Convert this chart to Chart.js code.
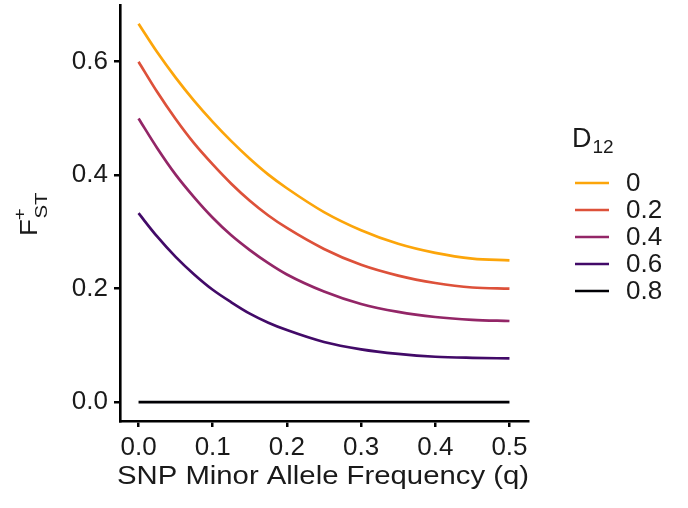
<!DOCTYPE html>
<html>
<head>
<meta charset="utf-8">
<script src="https://cdn.jsdelivr.net/npm/chart.js@4"></script>
<style>
  html, body { margin: 0; padding: 0; background: #fff; }
</style>
</head>
<body>
<canvas id="chart" width="688" height="508"></canvas>
<script>
// values
const qValues = [0, 0.025, 0.05, 0.075, 0.1, 0.125, 0.15, 0.175, 0.2, 0.25, 0.3, 0.35, 0.4, 0.45, 0.5];
const fstD0  = [0.667, 0.617, 0.572, 0.531, 0.494, 0.460, 0.429, 0.401, 0.377, 0.335, 0.303, 0.279, 0.263, 0.253, 0.250];
const fstD02 = [0.600, 0.547, 0.499, 0.456, 0.419, 0.385, 0.355, 0.329, 0.307, 0.270, 0.242, 0.223, 0.210, 0.202, 0.200];
const fstD04 = [0.500, 0.448, 0.401, 0.361, 0.325, 0.294, 0.268, 0.245, 0.225, 0.195, 0.173, 0.159, 0.150, 0.145, 0.143];
const fstD06 = [0.333, 0.292, 0.256, 0.225, 0.198, 0.176, 0.156, 0.140, 0.127, 0.106, 0.093, 0.085, 0.080, 0.078, 0.077];
const fstD08 = [0, 0, 0, 0, 0, 0, 0, 0, 0, 0, 0, 0, 0, 0, 0];

const d12Labels = ['0', '0.2', '0.4', '0.6', '0.8'];
const seriesValues = [fstD0, fstD02, fstD04, fstD06, fstD08];
const lineColors = ['#FCA50A', '#DD513A', '#932667', '#420A68', '#000004'];

const xTicks = [0, 0.1, 0.2, 0.3, 0.4, 0.5];
const yTicks = [0, 0.2, 0.4, 0.6];

const FONT = '"Liberation Sans", Arial, sans-serif';
const TEXT = '#1a1a1a';

const datasets = seriesValues.map((vals, i) => ({
  label: d12Labels[i],
  data: vals.map((v, j) => ({ x: qValues[j], y: v })),
  borderColor: lineColors[i],
  borderWidth: 2.7,
  pointRadius: 0,
  fill: false,
  cubicInterpolationMode: 'monotone'
}));

// axis titles and legend drawn by hand so they sit where ggplot put them
const extras = {
  id: 'extras',
  afterDraw(chart) {
    const ctx = chart.ctx;
    ctx.save();
    ctx.fillStyle = TEXT;

    // x title, a little wider than the font gives
    ctx.save();
    ctx.font = '26px ' + FONT;
    ctx.textAlign = 'left';
    ctx.textBaseline = 'alphabetic';
    const xt = 'SNP Minor Allele Frequency (q)';
    const sx = 412 / ctx.measureText(xt).width;
    ctx.translate(117, 484);
    ctx.scale(sx, 1);
    ctx.fillText(xt, 0, 0);
    ctx.restore();

    // y title F+ST (stretched along the text like the reference)
    ctx.save();
    ctx.translate(37, 236);
    ctx.rotate(-Math.PI / 2);
    ctx.scale(1.2, 1);
    ctx.textAlign = 'left';
    ctx.font = '23px ' + FONT;
    ctx.fillText('F', 0, 0);
    const wF = ctx.measureText('F').width;
    ctx.font = '17px ' + FONT;
    ctx.fillText('+', wF - 1, -12);
    ctx.fillText('ST', wF + 0.5, 10);
    ctx.restore();

    // legend
    ctx.textAlign = 'left';
    ctx.textBaseline = 'alphabetic';
    ctx.font = '27px ' + FONT;
    ctx.fillText('D', 572, 147);
    const wD = ctx.measureText('D').width;
    ctx.font = '19px ' + FONT;
    ctx.fillText('12', 572 + wD + 1, 153);

    const rowY = [183, 210, 237, 264, 291];
    chart.data.datasets.forEach((ds, i) => {
      ctx.strokeStyle = ds.borderColor;
      ctx.lineWidth = 2.7;
      ctx.beginPath();
      ctx.moveTo(575, rowY[i]);
      ctx.lineTo(609, rowY[i]);
      ctx.stroke();
      ctx.font = '26px ' + FONT;
      ctx.textBaseline = 'middle';
      ctx.fillText(ds.label, 626, rowY[i] + 1);
    });
    ctx.restore();
  }
};

const config = {
  type: 'line',
  data: { datasets },
  options: {
    responsive: false,
    animation: false,
    layout: { padding: { top: 5, right: 160, left: 0, bottom: 0 } },
    plugins: { legend: { display: false }, tooltip: { enabled: false } },
    scales: {
      x: {
        type: 'linear',
        min: -0.025,
        max: 0.525,
        afterBuildTicks: s => { s.ticks = xTicks.map(v => ({ value: v })); },
        afterFit: s => { s.height = 87; s.paddingLeft = 0; s.paddingRight = 0; },
        grid: { display: true, drawOnChartArea: false, drawTicks: true, tickLength: 6, color: '#000', lineWidth: 2.5 },
        border: { display: true, color: '#000', width: 2.6 },
        ticks: {
          font: { family: FONT, size: 26 },
          color: TEXT,
          padding: 5,
          maxRotation: 0,
          callback: v => Number(v).toFixed(1)
        }
      },
      y: {
        min: -0.0333,
        max: 0.7,
        afterBuildTicks: s => { s.ticks = yTicks.map(v => ({ value: v })); },
        afterFit: s => { s.width = 120; s.paddingTop = 0; s.paddingBottom = 0; },
        grid: { display: true, drawOnChartArea: false, drawTicks: true, tickLength: 6, color: '#000', lineWidth: 2.5 },
        border: { display: true, color: '#000', width: 2.6 },
        ticks: {
          font: { family: FONT, size: 26 },
          color: TEXT,
          padding: 6,
          callback: v => Number(v).toFixed(1)
        }
      }
    }
  },
  plugins: [extras]
};

const myChart = new Chart(document.getElementById('chart'), config);
</script>
</body>
</html>
